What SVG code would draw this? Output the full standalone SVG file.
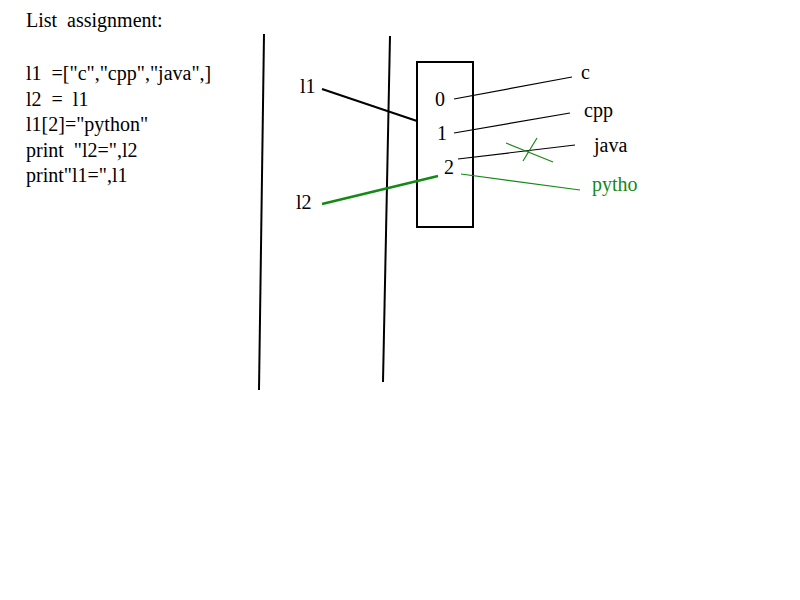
<svg xmlns="http://www.w3.org/2000/svg" width="800" height="600" viewBox="0 0 800 600">
<style>
text{font-family:"Liberation Serif","Times New Roman",serif;font-size:20px;fill:#000}
.g{fill:#138a13}
.k{stroke:#000;fill:none}
.gs{stroke:#138a13;fill:none}
</style>
<rect width="800" height="600" fill="#fff"/>
<g id="code">
<text x="26" y="27" xml:space="preserve">List  assignment:</text>
<text x="26" y="80" xml:space="preserve">l1  =["c","cpp","java",]</text>
<text x="26" y="106" xml:space="preserve">l2  =  l1</text>
<text x="26" y="131" xml:space="preserve">l1[2]="python"</text>
<text x="26" y="157" xml:space="preserve">print  "l2=",l2</text>
<text x="26" y="182" xml:space="preserve">print"l1=",l1</text>
</g>
<g id="dividers">
<line class="k" x1="264" y1="34" x2="259" y2="390" stroke-width="2"/>
<line class="k" x1="390" y1="36" x2="383" y2="382" stroke-width="2"/>
</g>
<g id="list">
<rect x="417" y="62" width="56" height="165" fill="none" stroke="#000" stroke-width="2"/>
<text x="435" y="106">0</text>
<text x="437" y="140">1</text>
<text x="444" y="174">2</text>
</g>
<g id="var-l1"><text x="300" y="93">l1</text></g>
<g id="var-l2"><text x="296" y="209">l2</text></g>
<g id="val-c"><text x="581" y="79">c</text></g>
<g id="val-cpp"><text x="584" y="117">cpp</text></g>
<g id="val-java"><text x="594" y="152">java</text></g>
<g id="val-python"><text class="g" x="592" y="191">pytho</text></g>
<g id="connectors">
<line class="k" x1="322" y1="89" x2="417" y2="121" stroke-width="2"/>
<line class="gs" x1="322" y1="204" x2="438" y2="176" stroke-width="2.5"/>
<line class="k" x1="454" y1="99" x2="572" y2="77" stroke-width="1.2"/>
<line class="k" x1="454" y1="133" x2="570" y2="113" stroke-width="1.2"/>
<line class="k" x1="458" y1="159" x2="575" y2="145" stroke-width="1.2"/>
<line class="gs" x1="461" y1="174" x2="580" y2="190" stroke-width="1.2"/>
<line class="gs" x1="506" y1="143" x2="553" y2="162" stroke-width="1.2"/>
<line class="gs" x1="537" y1="138" x2="523" y2="161" stroke-width="1.2"/>
</g>
</svg>
